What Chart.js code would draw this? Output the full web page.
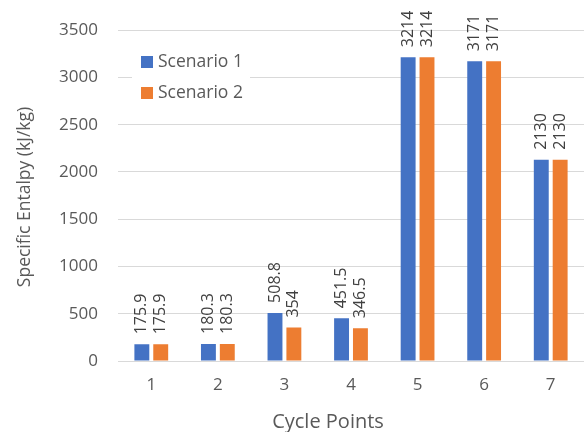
<!DOCTYPE html>
<html>
<head>
<meta charset="utf-8">
<script src="https://cdn.jsdelivr.net/npm/chart.js@4/dist/chart.umd.min.js"></script>
<style>
  html, body { margin: 0; padding: 0; background: #ffffff; }
  #wrap { width: 584px; height: 432px; position: relative; }
</style>
</head>
<body>
<div id="wrap"><canvas id="c" width="584" height="432"></canvas></div>
<script>
const categories = ['1', '2', '3', '4', '5', '6', '7'];
const scenario1 = [175.9, 180.3, 508.8, 451.5, 3214, 3171, 2130];
const scenario2 = [175.9, 180.3, 354, 346.5, 3214, 3171, 2130];
const seriesNames = ['Scenario 1', 'Scenario 2'];
const seriesColors = ['#4472C4', '#ED7D31'];
const yTicks = [0, 500, 1000, 1500, 2000, 2500, 3000, 3500];
const xTitle = 'Cycle Points';
const yTitle = 'Specific Entalpy (kJ/kg)';

const FONT = "'Open Sans', sans-serif";
const TEXT = '#595959';

const barLabels = {
  id: 'barLabels',
  afterDatasetsDraw(chart) {
    const ctx = chart.ctx;
    ctx.save();
    ctx.font = '16px ' + FONT;
    ctx.fillStyle = '#404040';
    ctx.textAlign = 'left';
    ctx.textBaseline = 'middle';
    chart.data.datasets.forEach((ds, di) => {
      const meta = chart.getDatasetMeta(di);
      meta.data.forEach((bar, i) => {
        const txt = String(ds.data[i]);
        const w = ctx.measureText(txt).width;
        let start = bar.y - 10;
        if (start - w < 6) start = 6 + w;
        ctx.save();
        ctx.translate(bar.x, start);
        ctx.rotate(-Math.PI / 2);
        ctx.fillText(txt, 0, 0);
        ctx.restore();
      });
    });
    ctx.restore();
  }
};

const extras = {
  id: 'extras',
  afterDraw(chart) {
    const ctx = chart.ctx;
    ctx.save();
    // legend inside plot, white background breaking the gridline
    ctx.fillStyle = '#ffffff';
    ctx.fillRect(132, 48, 118, 58);
    ctx.font = '17.5px ' + FONT;
    ctx.textBaseline = 'middle';
    ctx.textAlign = 'left';
    chart.data.datasets.forEach((ds, i) => {
      const y = 62 + i * 31;
      ctx.fillStyle = ds.backgroundColor;
      ctx.fillRect(141, y - 6, 12, 12);
      ctx.fillStyle = TEXT;
      ctx.fillText(ds.label, 158, y);
    });
    // axis titles
    ctx.fillStyle = TEXT;
    ctx.textAlign = 'center';
    ctx.font = '20px ' + FONT;
    ctx.fillText(xTitle, 328, 422);
    ctx.save();
    ctx.translate(25, 197);
    ctx.rotate(-Math.PI / 2);
    ctx.font = '17.5px ' + FONT;
    ctx.fillText(yTitle, 0, 0);
    ctx.restore();
    ctx.restore();
  }
};

new Chart(document.getElementById('c'), {
  type: 'bar',
  data: {
    labels: categories,
    datasets: [
      { label: seriesNames[0], data: scenario1, backgroundColor: seriesColors[0] },
      { label: seriesNames[1], data: scenario2, backgroundColor: seriesColors[1] }
    ]
  },
  options: {
    responsive: false,
    animation: false,
    devicePixelRatio: 1,
    layout: { padding: { top: 20, right: 0, left: 0, bottom: 0 } },
    datasets: { bar: { categoryPercentage: 0.567, barPercentage: 0.79 } },
    plugins: { legend: { display: false }, tooltip: { enabled: false } },
    scales: {
      x: {
        grid: { display: false, drawTicks: false },
        border: { display: false },
        ticks: { color: TEXT, font: { family: FONT, size: 17 }, padding: 14 },
        afterFit(scale) { scale.height = 71; }
      },
      y: {
        min: 0, max: 3500,
        grid: { color: '#d9d9d9', lineWidth: 1, drawTicks: false },
        border: { display: false },
        afterBuildTicks(scale) { scale.ticks = yTicks.map(v => ({ value: v })); },
        ticks: { color: TEXT, font: { family: FONT, size: 17 }, padding: 20, callback: v => String(v) },
        afterFit(scale) { scale.width = 118; }
      }
    }
  },
  plugins: [barLabels, extras]
});
</script>
</body>
</html>
